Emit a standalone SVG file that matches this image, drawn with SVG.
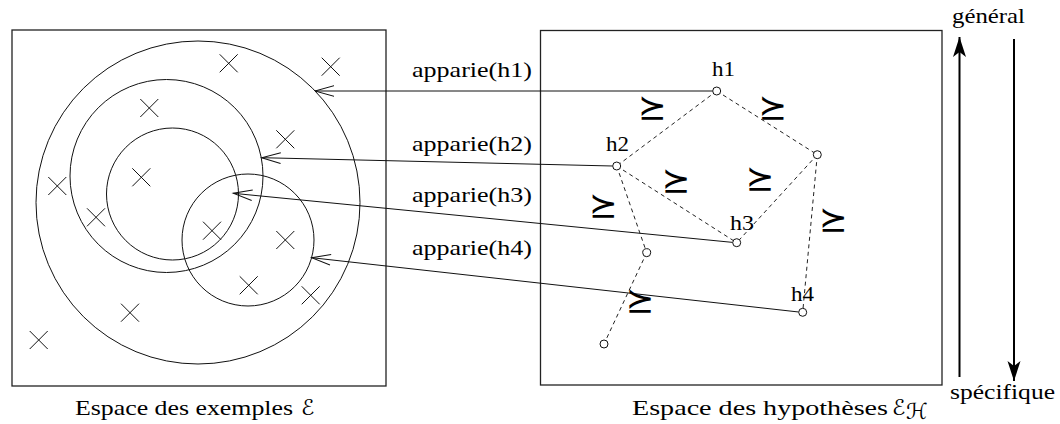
<svg xmlns="http://www.w3.org/2000/svg" width="1060" height="424" viewBox="0 0 1060 424">
<style>
.frame{fill:none;stroke:#222;stroke-width:1.3}
.set{fill:none;stroke:#111;stroke-width:1}
.cross{fill:none;stroke:#111;stroke-width:1}
.conn{fill:none;stroke:#111;stroke-width:1}
.dash{fill:none;stroke:#222;stroke-width:1;stroke-dasharray:4 3.5}
.node{fill:#fff;stroke:#111;stroke-width:1}
.big{fill:none;stroke:#000;stroke-width:2}
.t{font-family:'Liberation Serif',serif;font-size:22px;fill:#000}
.m{font-family:'DejaVu Sans',sans-serif;font-size:34px;fill:#000;text-anchor:middle}
.cal{font-family:'DejaVu Sans',sans-serif;font-size:22px;fill:#000}
</style>
<defs>
<path id="x" d="M-9,-9 L9,9 M-9,9 L9,-9"/>
<marker id="open" markerUnits="userSpaceOnUse" markerWidth="24" markerHeight="14" viewBox="-21 -7 24 14" refX="0" refY="0" orient="auto">
<path d="M-19,-5.3 L0,0 L-19,5.3" fill="none" stroke="#111" stroke-width="1"/>
</marker>
<marker id="solid" markerUnits="userSpaceOnUse" markerWidth="24" markerHeight="16" viewBox="-22 -8 24 16" refX="0" refY="0" orient="auto">
<path d="M0,0 L-20,-6.5 L-15,0 L-20,6.5 Z" fill="#000"/>
</marker>
</defs>

<g id="example-space">
<rect class="frame" x="12" y="30" width="374" height="356"/>
<ellipse id="set-h1" class="set" cx="198" cy="202.5" rx="162" ry="161.5"/>
<circle id="set-h2" class="set" cx="166.5" cy="176" r="96.5"/>
<circle id="set-h3" class="set" cx="172.5" cy="194" r="66"/>
<circle id="set-h4" class="set" cx="248" cy="240" r="66"/>
<g id="examples" class="cross">
<use href="#x" x="228.7" y="63.3"/>
<use href="#x" x="330.7" y="66.7"/>
<use href="#x" x="149.3" y="108"/>
<use href="#x" x="285.3" y="139.3"/>
<use href="#x" x="141.3" y="177.3"/>
<use href="#x" x="57.3" y="186"/>
<use href="#x" x="96" y="217.3"/>
<use href="#x" x="212" y="230.7"/>
<use href="#x" x="285.3" y="240"/>
<use href="#x" x="248.7" y="285.3"/>
<use href="#x" x="310.7" y="295.3"/>
<use href="#x" x="130" y="312.7"/>
<use href="#x" x="38.7" y="340"/>
</g>
<text class="t" x="75" y="415" textLength="218" lengthAdjust="spacingAndGlyphs">Espace des exemples</text>
<text class="cal" x="301" y="415">ℰ</text>
</g>

<g id="hypothesis-space">
<rect class="frame" x="540.5" y="30.5" width="401.5" height="354.5"/>
<text class="t" x="632" y="415" textLength="256" lengthAdjust="spacingAndGlyphs">Espace des hypothèses</text>
<text class="cal" x="892" y="415">ℰ</text>
<text class="cal" x="906" y="419" font-size="15">ℋ</text>
</g>

<g id="connectors">
<g id="lattice">
<line class="dash" x1="716.7" y1="91" x2="616.7" y2="166"/>
<line class="dash" x1="716.7" y1="91" x2="817.3" y2="154.7"/>
<line class="dash" x1="616.7" y1="166" x2="736.7" y2="242.7"/>
<line class="dash" x1="817.3" y1="154.7" x2="736.7" y2="242.7"/>
<line class="dash" x1="817.3" y1="154.7" x2="802.7" y2="312.3"/>
<line class="dash" x1="616.7" y1="166" x2="646.7" y2="252.7"/>
<line class="dash" x1="646.7" y1="252.7" x2="604" y2="344"/>
</g>
<g id="apparie-arrows">
<line class="conn" x1="712.7" y1="91" x2="315" y2="91" marker-end="url(#open)"/>
<line class="conn" x1="612.7" y1="166" x2="261.7" y2="157.7" marker-end="url(#open)"/>
<line class="conn" x1="732.7" y1="242.4" x2="233.3" y2="193.3" marker-end="url(#open)"/>
<line class="conn" x1="798.7" y1="312" x2="311.7" y2="257.7" marker-end="url(#open)"/>
</g>
<line id="up-arrow" class="big" x1="959.5" y1="377" x2="959.5" y2="37" marker-end="url(#solid)"/>
<line id="down-arrow" class="big" x1="1014" y1="39" x2="1014" y2="381" marker-end="url(#solid)"/>
</g>

<g id="labels">
<text class="t" x="412" y="77" textLength="120" lengthAdjust="spacingAndGlyphs">apparie(h1)</text>
<text class="t" x="412" y="151" textLength="120" lengthAdjust="spacingAndGlyphs">apparie(h2)</text>
<text class="t" x="412" y="202" textLength="120" lengthAdjust="spacingAndGlyphs">apparie(h3)</text>
<text class="t" x="412" y="255" textLength="120" lengthAdjust="spacingAndGlyphs">apparie(h4)</text>
<text class="t" x="952" y="23" textLength="73" lengthAdjust="spacingAndGlyphs">général</text>
<text class="t" x="950" y="399" textLength="105" lengthAdjust="spacingAndGlyphs">spécifique</text>
</g>

<g id="order-symbols">
<text class="m" x="652.3" y="119">⪰</text>
<text class="m" x="772.7" y="119">⪰</text>
<text class="m" x="676" y="192">⪰</text>
<text class="m" x="760" y="190">⪰</text>
<text class="m" x="603.3" y="216.5">⪰</text>
<text class="m" x="833.3" y="231">⪰</text>
<text class="m" x="640" y="312">⪰</text>
</g>

<g id="node-h1"><circle class="node" cx="716.7" cy="91" r="4"/><text class="t" x="712" y="76" textLength="23" lengthAdjust="spacingAndGlyphs">h1</text></g>
<g id="node-h2"><circle class="node" cx="616.7" cy="166" r="4"/><text class="t" x="606" y="151" textLength="23" lengthAdjust="spacingAndGlyphs">h2</text></g>
<g id="node-h3"><circle class="node" cx="736.7" cy="242.7" r="4"/><text class="t" x="730" y="230" textLength="24" lengthAdjust="spacingAndGlyphs">h3</text></g>
<g id="node-h4"><circle class="node" cx="802.7" cy="312.3" r="4"/><text class="t" x="791" y="300.5" textLength="23" lengthAdjust="spacingAndGlyphs">h4</text></g>
<g id="node-a"><circle class="node" cx="817.3" cy="154.7" r="4"/></g>
<g id="node-b"><circle class="node" cx="646.7" cy="252.7" r="4"/></g>
<g id="node-c"><circle class="node" cx="604" cy="344" r="4"/></g>
</svg>
